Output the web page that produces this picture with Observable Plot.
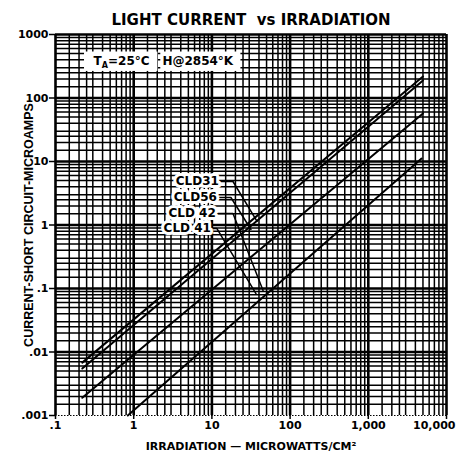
<!DOCTYPE html>
<html>
<head>
<meta charset="utf-8">
<script src="https://cdn.jsdelivr.net/npm/d3@7"></script>
<script src="https://cdn.jsdelivr.net/npm/@observablehq/plot@0.6"></script>
<style>
  html, body { margin: 0; padding: 0; background: #fff; }
</style>
</head>
<body>
<div id="chart"></div>
<script>
// ---- chart text ----
const titleText = "LIGHT CURRENT\u00a0\u00a0vs IRRADIATION";
const xLabelText = "IRRADIATION \u2014 MICROWATTS/CM\u00b2";
const yLabelText = "CURRENT-SHORT CIRCUIT-MICROAMPS";

// ---- axes ----
const xTickValues = [0.1, 1, 10, 100, 1000, 10000];
const xTickLabels = [".1", "1", "10", "100", "1,000", "10,000"];
const yTickValues = [0.001, 0.01, 0.1, 1, 10, 100, 1000];
const yTickLabels = [".001", ".01", ".1", "1", "10", "100", "1000"];
const gridMultipliers = [1, 1.5, 2, 2.5, 3, 4, 5, 6, 7, 8, 9];

// ---- series (start / end points of each straight log-log line) ----
const seriesNames = ["CLD31", "CLD56", "CLD42", "CLD41"];
const seriesStartX = [0.22, 0.22, 0.22, 0.84];
const seriesStartY = [0.0068, 0.0055, 0.0019, 0.001];
const seriesEndX = [5000, 5000, 5000, 4800];
const seriesEndY = [218, 189, 57, 11.1];

// ---- labels and leader lines ----
const labelTexts = ["CLD31", "CLD56", "CLD 42", "CLD 41"];
const labelX = [12.3, 11.6, 11.2, 9.7];
const labelY = [4.84, 2.71, 1.52, 0.88];
const leaderIds = ["CLD31","CLD31","CLD31","CLD56","CLD56","CLD56","CLD42","CLD42","CLD42","CLD41","CLD41","CLD41"];
const leaderX = [13.0, 18.6, 37.8, 12.3, 17.5, 31.6, 11.9, 18.6, 45.1, 10.3, 11.6, 36.6];
const leaderY = [4.84, 4.84, 1.14, 2.71, 2.71, 0.85, 1.52, 1.52, 0.093, 0.88, 0.88, 0.083];

// ---- conditions note ----
const noteTexts = ["TA=25\u00b0C", "H@2854\u00b0K"];
const noteX = [0.70, 6.6];
const noteY = [376, 376];
const noteBoxX1 = [0.235, 2.22];
const noteBoxX2 = [2.04, 23.5];
const noteBoxY1 = [262, 262];
const noteBoxY2 = [530, 530];

// ---- derived tables ----
const xDecades = xTickValues.slice(0, -1);
const yDecades = yTickValues.slice(0, -1);
const xMinor = xDecades.flatMap(d => gridMultipliers.slice(1).map(m => +(d * m).toPrecision(6)));
const yMinor = yDecades.flatMap(d => gridMultipliers.slice(1).map(m => +(d * m).toPrecision(6)));

const seriesData = seriesNames.flatMap((name, i) => [
  {name, x: seriesStartX[i], y: seriesStartY[i]},
  {name, x: seriesEndX[i], y: seriesEndY[i]}
]);
const leaderData = leaderIds.map((id, i) => ({id, x: leaderX[i], y: leaderY[i]}));
const labelData = labelTexts.map((t, i) => ({t, x: labelX[i], y: labelY[i]}));
const noteData = noteTexts.map((t, i) => ({t, x: noteX[i], y: noteY[i]}));
const boxData = noteBoxX1.map((_, i) => ({x1: noteBoxX1[i], x2: noteBoxX2[i], y1: noteBoxY1[i], y2: noteBoxY2[i]}));
const xLabelMap = new Map(xTickValues.map((v, i) => [v, xTickLabels[i]]));
const yLabelMap = new Map(yTickValues.map((v, i) => [v, yTickLabels[i]]));
const lastX = xTickValues[xTickValues.length - 1];

const font = "'DejaVu Sans', 'Liberation Sans', sans-serif";
const narrow = "'Liberation Sans', Arial, sans-serif";

const chart = Plot.plot({
  width: 457,
  height: 465,
  marginLeft: 55,
  marginRight: 11,
  marginTop: 34,
  marginBottom: 50,
  style: {background: "#fff", color: "#000", fontFamily: font},
  x: {type: "log", domain: [0.1, 10000], axis: null},
  y: {type: "log", domain: [0.001, 1000], axis: null},
  marks: [
    // minor grid
    Plot.ruleX(xMinor, {y1: 0.001, y2: 1000, stroke: "#000", strokeWidth: 1.5}),
    Plot.ruleY(yMinor, {x1: 0.1, x2: 10000, stroke: "#000", strokeWidth: 1.5}),
    // decade grid
    Plot.ruleX(xTickValues, {y1: 0.001, y2: 1000, stroke: "#000", strokeWidth: 2.6}),
    Plot.ruleY(yTickValues.slice(1), {x1: 0.1, x2: 10000, stroke: "#000", strokeWidth: 2.6}),
    Plot.ruleY([0.001], {x1: 0.1, x2: 10000, stroke: "#000", strokeWidth: 1.2, strokeDasharray: "1.5,1.5"}),
    // note boxes
    Plot.rect(boxData, {x1: "x1", x2: "x2", y1: "y1", y2: "y2", fill: "#fff"}),
    Plot.text(noteData, {x: "x", y: "y", text: "t", fontSize: 12, fontWeight: "bold", fill: "#000"}),
    // series
    Plot.line(seriesData, {x: "x", y: "y", z: "name", stroke: "#000", strokeWidth: 2}),
    // leaders
    Plot.line(leaderData, {x: "x", y: "y", z: "id", stroke: "#000", strokeWidth: 1.5}),
    // labels
    Plot.text(labelData, {x: "x", y: "y", text: "t", textAnchor: "end", fontSize: 12, fontWeight: "bold",
      fill: "#000", stroke: "#fff", strokeWidth: 6, strokeLinejoin: "round"}),
    // axes
    Plot.axisY(yTickValues, {anchor: "left", tickSize: 6, tickPadding: 1, strokeWidth: 1.5,
      tickFormat: d => yLabelMap.get(d), fontSize: 11, fontWeight: "bold", label: null}),
    Plot.axisX(xTickValues, {anchor: "bottom", tickSize: 4, tickPadding: 2, strokeWidth: 1.5,
      tickFormat: d => (d === lastX ? "" : xLabelMap.get(d)), fontSize: 11, fontWeight: "bold", label: null}),
    Plot.text([lastX], {x: d => d, text: d => xLabelMap.get(d), frameAnchor: "bottom", lineAnchor: "top",
      dy: 6, dx: 9, textAnchor: "end", fontSize: 11, fontWeight: "bold", fill: "#000"}),
    // title and axis labels
    Plot.text([titleText], {frameAnchor: "top", dy: -20, fontSize: 15, fontWeight: "bold", fill: "#000"}),
    Plot.text([xLabelText], {frameAnchor: "bottom", dy: 34, fontSize: 11, fontWeight: "bold", fill: "#000"}),
    Plot.text([yLabelText], {frameAnchor: "left", dx: -27, rotate: -90, textAnchor: "middle",
      fontSize: 12.5, fontWeight: "bold", fontFamily: narrow, fill: "#000"})
  ]
});

// subscript "A" in the temperature note
d3.select(chart).selectAll("text").filter(function() { return this.textContent === noteTexts[0]; })
  .each(function() {
    const t = d3.select(this);
    t.text(null);
    t.append("tspan").text("T");
    t.append("tspan").attr("font-size", 8).attr("dy", 3).text("A");
    t.append("tspan").attr("dy", -3).text(noteTexts[0].slice(2));
  });

document.getElementById("chart").appendChild(chart);
</script>
</body>
</html>
